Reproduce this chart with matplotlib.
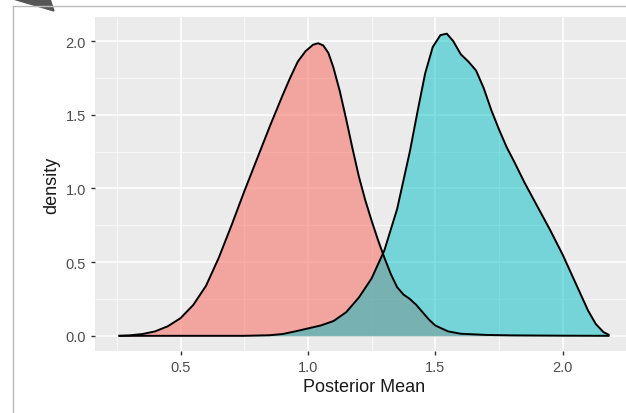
import numpy as np
import matplotlib
matplotlib.use("Agg")
import matplotlib.pyplot as plt
from matplotlib.patches import Polygon
from matplotlib.lines import Line2D

plt.rcParams['font.family'] = ['Liberation Sans', 'DejaVu Sans']

x_red = [0.26,0.30,0.35,0.40,0.45,0.50,0.55,0.60,0.65,0.70,0.75,0.80,0.85,0.90,0.93,0.96,0.99,1.02,1.04,1.06,1.08,1.10,1.125,1.15,1.175,1.20,1.225,1.25,1.275,1.30,1.325,1.35,1.375,1.40,1.425,1.45,1.475,1.50,1.55,1.60,1.70,1.80,2.00,2.18]
y_red = [0.0,0.003,0.012,0.03,0.065,0.12,0.21,0.34,0.53,0.75,0.98,1.2,1.42,1.63,1.75,1.86,1.93,1.975,1.985,1.97,1.92,1.82,1.66,1.47,1.27,1.08,0.92,0.78,0.65,0.53,0.42,0.33,0.28,0.25,0.21,0.16,0.11,0.07,0.03,0.014,0.006,0.003,0.001,0.0]
x_blue = [0.26,0.75,0.85,0.90,0.95,1.00,1.05,1.10,1.15,1.20,1.25,1.30,1.35,1.40,1.43,1.46,1.49,1.52,1.545,1.57,1.60,1.63,1.66,1.69,1.72,1.75,1.78,1.81,1.85,1.90,1.95,2.00,2.05,2.10,2.13,2.16,2.18]
y_blue = [0.0,0.0,0.004,0.012,0.03,0.05,0.07,0.1,0.16,0.26,0.39,0.58,0.86,1.25,1.52,1.78,1.96,2.04,2.05,2.0,1.91,1.86,1.8,1.68,1.53,1.4,1.28,1.18,1.04,0.88,0.72,0.55,0.36,0.17,0.08,0.025,0.008]

W, H = 626, 414
fig = plt.figure(figsize=(W/100, H/100), dpi=100)
fig.patch.set_facecolor("white")
ax = fig.add_axes([95/W, 62/H, (633-95)/W, (352-18)/H])
ax.set_facecolor("#EBEBEB")
ax.fill_between(x_red, y_red, color="#F8766D", alpha=0.6, lw=0)
ax.plot(x_red, y_red, color="black", lw=1.4, solid_joinstyle="round")
ax.fill_between(x_blue, y_blue, color="#00BFC4", alpha=0.5, lw=0)
ax.plot(x_blue, y_blue, color="black", lw=1.4, solid_joinstyle="round")
ax.set_xlim(0.164, 2.276)
ax.set_ylim(-0.103, 2.163)
ax.set_xticks([0.5, 1.0, 1.5, 2.0])
ax.set_xticks([0.25, 0.75, 1.25, 1.75, 2.25], minor=True)
ax.set_yticks([0.0, 0.5, 1.0, 1.5, 2.0])
ax.set_yticks([0.25, 0.75, 1.25, 1.75], minor=True)
ax.set_xticklabels(["0.5", "1.0", "1.5", "2.0"])
ax.set_yticklabels(["0.0", "0.5", "1.0", "1.5", "2.0"])
ax.grid(which="major", color="white", lw=1.1)
ax.grid(which="minor", color="white", lw=0.5)
ax.set_axisbelow(True)
for s in ax.spines.values():
    s.set_visible(False)
ax.tick_params(which="major", length=3, width=1, color="#333333", labelcolor="#4D4D4D", labelsize=10.5)
ax.tick_params(which="minor", length=0)
ax.set_xlabel("Posterior Mean", fontsize=13, color="#1A1A1A", labelpad=3)
ax.set_ylabel("density", fontsize=13, color="#1A1A1A")

fig.add_artist(Line2D([13/W, 13/W], [0, 1-7/H], color="#BBBBBB", lw=1, transform=fig.transFigure))
fig.add_artist(Line2D([13/W, 1], [1-7/H, 1-7/H], color="#BBBBBB", lw=1, transform=fig.transFigure))
fig.add_artist(Polygon([(13/W, 1), (50/W, 1), (54/W, 1-12/H)], closed=True, color="#555555", transform=fig.transFigure))
fig.savefig("out.png", dpi=100)
